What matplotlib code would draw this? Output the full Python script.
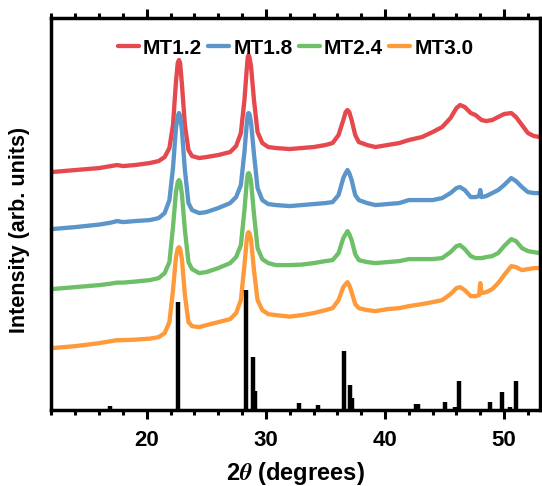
import matplotlib
matplotlib.use("Agg")
import matplotlib.pyplot as plt
from matplotlib.ticker import MultipleLocator

plt.rcParams["font.family"] = ["Liberation Sans", "DejaVu Sans"]
plt.rcParams["font.weight"] = "bold"
plt.rcParams["mathtext.fontset"] = "stix"

# ── data (arbitrary intensity units) ────────────────────────────────────────
two_theta = [12, 14, 16, 17, 17.5, 18, 19, 20.25, 21, 21.5, 21.9, 22.2, 22.45, 22.6, 22.7,
             22.8, 22.95, 23.2, 23.5, 23.8, 24.4, 25, 26, 27, 27.5, 27.9, 28.2, 28.4, 28.48,
             28.55, 28.62, 28.75, 29, 29.3, 29.7, 30.2, 30.85, 32, 33, 34, 35, 35.6, 36.1,
             36.5, 36.7, 36.85, 37.0, 37.2, 37.5, 37.8, 38.5, 39.2, 40.2, 41.2, 42, 43.1,
             44, 44.8, 45.5, 46, 46.3, 46.7, 47.2, 47.6, 47.9, 48.0, 48.1, 48.5, 49, 49.5,
             50, 50.6, 51, 51.5, 52, 52.5, 53]

mt12 = [238, 240, 242, 244, 245, 244, 245, 247, 249, 253, 262, 285, 328, 347, 350,
        347, 326, 285, 260, 254, 252, 253, 255, 258, 264, 277, 310, 342, 353,
        355, 353, 344, 310, 278, 267, 263, 262, 261, 262, 263, 265, 267, 275,
        290, 298, 300, 298, 290, 275, 268, 265, 263, 265, 267, 270, 273,
        278, 283, 292, 302, 305, 303, 297, 295, 292, 291, 290, 289, 290, 293,
        296, 297, 293, 285, 277, 274, 273]

mt18 = [181, 183, 185.5, 187.5, 189, 188, 189, 190, 192, 197, 210, 242, 282, 294, 297,
        294, 280, 240, 207, 200, 197, 198, 202, 207, 213, 225, 258, 287, 296,
        297, 296, 288, 256, 222, 210, 206, 205, 204, 205, 206, 207, 208, 215,
        232, 237, 240, 237, 230, 215, 210, 207, 205, 206, 207, 210, 210,
        210, 212, 217, 222, 223, 220, 213, 213, 214, 220, 213, 214, 217, 220,
        225, 232, 229, 223, 218, 217, 217]

mt24 = [121, 123, 125, 126.5, 127.5, 127.5, 128.5, 130, 132, 137, 148, 183, 218, 228, 230,
        228, 216, 180, 148, 141, 137, 138, 142, 147, 153, 165, 200, 229, 236,
        237, 236, 229, 196, 162, 151, 147, 145, 145, 145.5, 147, 149, 150, 157,
        172, 176, 179, 176, 170, 156, 150, 148, 147, 148, 149, 151, 151,
        151, 152, 158, 164, 165, 161, 154, 152, 152, 152, 152, 153, 154, 157,
        164, 171, 169, 162, 159, 158, 157]

mt30 = [62, 64, 67, 69, 70, 70, 70.5, 71.5, 73, 77, 88, 120, 153, 161.5, 163,
        161.5, 151, 115, 88, 84, 83, 85, 88, 91, 97, 110, 145, 171, 177,
        178, 177, 171, 140, 110, 100, 96, 95, 93.5, 95, 97, 100, 102, 110,
        123, 126, 128, 125, 118, 106, 102, 100, 99, 101, 102, 104, 106,
        108, 110, 116, 122, 123, 120, 114, 114, 115, 127, 117, 118, 121, 127,
        135, 144, 143, 140, 141, 142, 142]

series = {"MT1.2": mt12, "MT1.8": mt18, "MT2.4": mt24, "MT3.0": mt30}
colors = {"MT1.2": "#E5484D", "MT1.8": "#5B95C9", "MT2.4": "#6DBF68", "MT3.0": "#FF9A3B"}

# reference pattern sticks
ref_pos = [16.9, 22.6, 28.35, 28.9, 29.12, 32.8, 34.4, 36.57, 37.05, 37.27,
           42.6, 42.8, 45.0, 45.85, 46.2, 48.85, 49.8, 50.5, 51.0]
ref_int = [4, 108, 120, 53, 19, 7, 5, 59, 25, 12,
           6, 6, 8, 3, 29, 8, 18, 3, 29]

# ── plot ────────────────────────────────────────────────────────────────────
fig = plt.figure(figsize=(5.42, 4.86), dpi=100)
ax = fig.add_axes([0.095, 0.156, 0.901, 0.807])

for name, vals in series.items():
    ax.plot(two_theta, vals, color=colors[name], lw=3.1, label=name,
            solid_capstyle="round", solid_joinstyle="round")

ax.vlines(ref_pos, 0, ref_int, color="black", lw=3.2, zorder=5)

ax.set_xlim(12, 53)
ax.set_ylim(0, 392)
ax.xaxis.set_major_locator(MultipleLocator(10))
ax.xaxis.set_minor_locator(MultipleLocator(2))
ax.set_yticks([])
ax.tick_params(axis="x", which="both", direction="out", top=True, width=2.2,
               labelsize=16, pad=8)
ax.tick_params(axis="x", which="major", length=6.5)
ax.tick_params(axis="x", which="minor", length=3.5)
for lab in ax.get_xticklabels():
    lab.set_fontweight("bold")
for s in ax.spines.values():
    s.set_linewidth(2.5)

ax.set_xlabel(r"2$\theta$ (degrees)", fontsize=17, fontweight="bold", labelpad=6)
ax.set_ylabel("Intensity (arb. units)", fontsize=15.5, fontweight="bold")
ax.yaxis.set_label_coords(-0.045, 0.46)

ax.legend(loc="upper center", bbox_to_anchor=(0.5, 0.995), ncol=4, frameon=False,
          handlelength=1.0, handletextpad=0.2, columnspacing=0.3,
          prop={"weight": "bold", "size": 15})

plt.savefig("out.png", dpi=100)
plt.close()
print("Saved: out.png")
